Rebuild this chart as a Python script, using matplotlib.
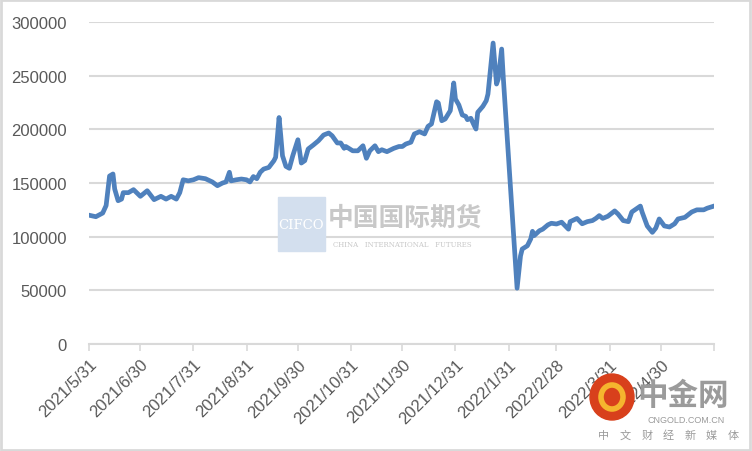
import matplotlib
matplotlib.use('Agg')
import matplotlib.pyplot as plt
import matplotlib.patches as mpatches
import pandas as pd

plt.rcParams['font.family'] = ['Liberation Sans', 'Noto Sans CJK SC', 'DejaVu Sans']

# --- data ---
dates = [
    "2021-05-31", "2021-06-04", "2021-06-08", "2021-06-10", "2021-06-12", "2021-06-14",
    "2021-06-15", "2021-06-17", "2021-06-19", "2021-06-20", "2021-06-23", "2021-06-26",
    "2021-06-30", "2021-07-04", "2021-07-08", "2021-07-12", "2021-07-15", "2021-07-18",
    "2021-07-21", "2021-07-23", "2021-07-25", "2021-07-28", "2021-07-31", "2021-08-03",
    "2021-08-07", "2021-08-11", "2021-08-14", "2021-08-17", "2021-08-19", "2021-08-21",
    "2021-08-22", "2021-08-25", "2021-08-28", "2021-08-31", "2021-09-02", "2021-09-04",
    "2021-09-06", "2021-09-08", "2021-09-10", "2021-09-13", "2021-09-16", "2021-09-17",
    "2021-09-19", "2021-09-20", "2021-09-21", "2021-09-23", "2021-09-25", "2021-09-27",
    "2021-09-30", "2021-10-02", "2021-10-04", "2021-10-06", "2021-10-09", "2021-10-12",
    "2021-10-15", "2021-10-18", "2021-10-20", "2021-10-23", "2021-10-25", "2021-10-27",
    "2021-10-28", "2021-11-01", "2021-11-04", "2021-11-07", "2021-11-09", "2021-11-11",
    "2021-11-14", "2021-11-16", "2021-11-18", "2021-11-21", "2021-11-25", "2021-11-28",
    "2021-11-30", "2021-12-02", "2021-12-05", "2021-12-07", "2021-12-10", "2021-12-13",
    "2021-12-15", "2021-12-17", "2021-12-20", "2021-12-21", "2021-12-23", "2021-12-25",
    "2021-12-28", "2021-12-30", "2021-12-31", "2022-01-02", "2022-01-04", "2022-01-06",
    "2022-01-07", "2022-01-09", "2022-01-11", "2022-01-12", "2022-01-13", "2022-01-16",
    "2022-01-18", "2022-01-19", "2022-01-22", "2022-01-24", "2022-01-25", "2022-01-27",
    "2022-01-28", "2022-02-05", "2022-02-07", "2022-02-08", "2022-02-11", "2022-02-13",
    "2022-02-14", "2022-02-15", "2022-02-18", "2022-02-20", "2022-02-23", "2022-02-25",
    "2022-02-28", "2022-03-03", "2022-03-07", "2022-03-08", "2022-03-12", "2022-03-15",
    "2022-03-18", "2022-03-21", "2022-03-23", "2022-03-25", "2022-03-27", "2022-03-30",
    "2022-04-03", "2022-04-05", "2022-04-08", "2022-04-11", "2022-04-13", "2022-04-18",
    "2022-04-19", "2022-04-22", "2022-04-25", "2022-04-27", "2022-04-29", "2022-05-02",
    "2022-05-05", "2022-05-08", "2022-05-10", "2022-05-14", "2022-05-18", "2022-05-21",
    "2022-05-25", "2022-05-27", "2022-05-31",
]
values = [
    120000, 118600, 122000, 129000, 156500, 158400,
    144400, 133500, 135000, 141000, 141000, 143800,
    137600, 142800, 134500, 137600, 135000, 137600,
    135000, 141000, 153000, 152000, 153000, 155000,
    154000, 151000, 147500, 150000, 151000, 160000,
    152000, 153000, 153700, 153000, 151000, 156000,
    154000, 160000, 163000, 164500, 170800, 174000,
    211000, 194000, 175400, 165500, 163700, 175400,
    190300, 168600, 170800, 181700, 185400, 189400,
    194700, 196600, 194000, 187300, 187300, 182300,
    184000, 180000, 180000, 184700, 173000, 180000,
    184700, 179200, 181000, 179200, 182300, 184000,
    184000, 186300, 188000, 195700, 197800, 195700,
    202800, 205000, 225700, 224500, 208000, 209600,
    217400, 243200, 228300, 222700, 213400, 212100,
    209000, 210300, 203400, 200300, 215800, 221400,
    226700, 232900, 280400, 242200, 246900, 274800,
    246900, 52000, 82000, 88500, 91500, 98000,
    105000, 101000, 105500, 107000, 111000, 112500,
    111800, 113500, 107000, 114000, 117000, 112000,
    114000, 115000, 117000, 119600, 117000, 119000,
    124000, 121000, 115000, 114000, 123000, 128500,
    123000, 110000, 104000, 108000, 116500, 110000,
    109000, 112000, 116500, 118000, 123000, 125000,
    125000, 126500, 128500,
]
tick_dates = [
    "2021-05-31", "2021-06-30", "2021-07-31", "2021-08-31", "2021-09-30", "2021-10-31",
    "2021-11-30", "2021-12-31", "2022-01-31", "2022-02-28", "2022-03-31", "2022-04-30",
    "2022-05-31",
]
tick_labels = [
    "2021/5/31", "2021/6/30", "2021/7/31", "2021/8/31", "2021/9/30", "2021/10/31",
    "2021/11/30", "2021/12/31", "2022/1/31", "2022/2/28", "2022/3/31", "2022/4/30", "",
]
y_ticks = [0, 50000, 100000, 150000, 200000, 250000, 300000]

x = pd.to_datetime(dates)
xt = pd.to_datetime(tick_dates)
W, H = 752, 452
cjk = ['Noto Sans CJK SC', 'DejaVu Sans']

fig = plt.figure(figsize=(W / 100, H / 100), dpi=100)
ax = fig.add_axes([89 / W, 107 / H, 625 / W, 322 / H])

# CIFCO watermark behind the line
fig.patches.append(mpatches.Rectangle((278 / W, 200 / H), 47 / W, 54 / H,
                                      transform=fig.transFigure, color='#d3dfee', zorder=0))
fig.text(301 / W, 226 / H, "CIFCO", color='white', fontsize=9.5, family='DejaVu Serif',
         ha='center', va='center', zorder=1)
fig.text(328 / W, 234 / H, "中国国际期货", color='#c8c8c8', fontsize=18.5, weight='bold',
         family=cjk, ha='left', va='center', zorder=1)
fig.text(402 / W, 207 / H, "CHINA   INTERNATIONAL   FUTURES", color='#c8c8c8', fontsize=5,
         family='DejaVu Serif', ha='center', va='center', zorder=1)

ax.set_facecolor('none')
ax.plot(x, values, color='#4f81bd', linewidth=3.4, solid_joinstyle='round', zorder=3)

ax.set_xlim(xt[0], xt[-1])
ax.set_ylim(0, 300000)
ax.set_yticks(y_ticks)
ax.set_yticklabels([str(v) for v in y_ticks])
ax.set_xticks(xt)
ax.set_xticklabels(tick_labels, rotation=45, ha='right', rotation_mode='anchor')

ax.grid(axis='y', color='#d9d9d9', linewidth=1.5)
ax.set_axisbelow(True)
for s in ['left', 'right', 'top']:
    ax.spines[s].set_visible(False)
ax.spines['bottom'].set_color('#d9d9d9')
ax.spines['bottom'].set_linewidth(1.5)
ax.tick_params(axis='y', length=0, pad=16, labelsize=12, labelcolor='#595959')
ax.tick_params(axis='x', length=5, width=1.2, color='#d9d9d9', pad=4,
               labelsize=12, labelcolor='#595959')

# cngold logo bottom right
fig.patches.append(mpatches.Ellipse((612 / W, 54 / H), 44 / W, 46 / H, transform=fig.transFigure,
                                    color='#d8401c', zorder=5))
fig.patches.append(mpatches.Ellipse((612 / W, 54 / H), 22 / W, 24 / H, transform=fig.transFigure,
                                    fill=False, edgecolor='#f5b52e', linewidth=4, zorder=6))
fig.text(683 / W, 56 / H, "中金网", color='#9b9b9b', fontsize=22, weight='bold',
         family=cjk, ha='center', va='center', zorder=6)
fig.text(686 / W, 31 / H, "CNGOLD.COM.CN", color='#9b9b9b', fontsize=6.5,
         ha='center', va='center', zorder=6)
for i, ch in enumerate("中文财经新媒体"):
    fig.text((604 + i * 21.5) / W, 16 / H, ch, color='#9b9b9b', fontsize=8,
             family=cjk, ha='center', va='center', zorder=6)

# figure border
fig.patches.append(mpatches.Rectangle((0.001, 0.002), 0.997, 0.995, transform=fig.transFigure,
                                      fill=False, edgecolor='#d9d9d9', linewidth=2, zorder=10))

fig.savefig('out.png', dpi=100)
